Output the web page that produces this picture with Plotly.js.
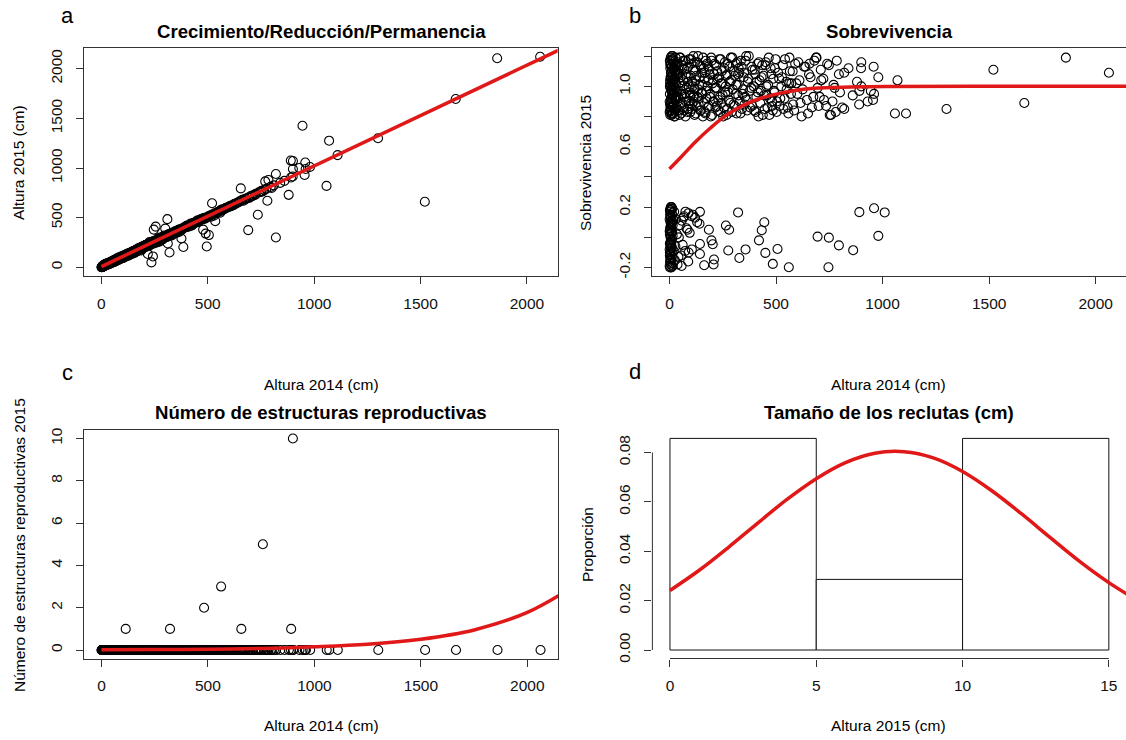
<!DOCTYPE html>
<html>
<head>
<meta charset="utf-8">
<script src="https://cdn.plot.ly/plotly-3.0.1.min.js"></script>
<style>
html,body{margin:0;padding:0;overflow:hidden;background:#fff;}
#chart{width:1130px;height:740px;}
</style>
</head>
<body>
<div id="chart"></div>
<script>
// ---------- DATA ----------
// Altura 2014 (cm) of surviving plants
const height2014 = [
1,2,2,3,3,4,4,5,5,6,6,7,7,8,8,9,10,10,11,12,
12,13,14,15,15,16,17,18,19,20,20,21,22,23,24,25,26,27,28,30,
1,3,4,6,8,9,11,13,14,16,18,19,21,23,25,27,29,31,33,35,
36,38,40,42,44,46,48,50,52,55,57,60,62,65,67,70,72,75,77,80,
82,85,87,90,92,95,98,100,103,106,109,112,115,118,121,124,128,131,135,138,
141,145,148,152,155,158,162,165,169,172,176,180,183,187,190,194,198,202,206,210,
214,218,222,226,230,235,238,242,246,250,255,260,264,268,272,276,280,285,290,295,
300,305,310,312,315,320,325,330,335,340,345,350,355,360,365,370,376,385,388,395,
400,405,410,415,420,426,432,438,444,450,455,460,466,472,478,485,490,495,505,515,
520,528,535,542,550,558,565,572,580,590,600,610,620,632,645,655,668,680,695,710,
690,705,722,735,748,765,770,780,785,800,820,820,840,860,880,890,900,945,955,958,
1058,1070,1110,1300,1520,1665,1860,2062,900,960,114,322,482,562,657,758,891,899,930,980,
31,34,37,41,43,47,51,54,58,61,64,68,71,74,78,81,84,88,91,94,
97,101,105,108,111,114,117,120,123,127,130,134,137,140,144,147,151,154,157,161,
164,167,171,174,178,182,185,189,192,196,200,204,208,212,216,220,224,228,232,237,
240,244,248,252,257,262,266,270,274,278,283,288,292,297,302,307,313,318,323,328,
333,338,343,348,352,357,362,367,372,378,383,390,398,403,408,413,418,423,429,435,
441,447,452,458,463,469,475,481,487,493,498,503,510,517,525,532,540,548,555,563,
570,578,585,595,605,615,625,638,650,662,675,688,700,712,725,740,752,775,795,810,
2,3,5,6,7,9,10,11,12,13,14,16,17,18,20,22,24,26,28,29
];
// Altura 2015 (cm) of the same plants
const height2015 = [
3,2,6,4,9,5,10,8,12,7,14,9,16,11,6,15,13,20,12,18,
22,15,25,19,28,24,20,30,26,22,35,27,33,25,38,30,36,29,40,34,
2,5,3,9,12,10,15,18,16,24,21,26,30,28,33,31,37,36,42,39,
45,40,52,48,44,58,53,50,63,57,70,61,75,66,80,72,85,78,95,83,
90,100,84,98,110,92,112,105,95,120,113,110,130,118,125,140,122,145,130,150,
140,160,150,165,145,170,175,160,185,172,195,182,200,170,205,190,215,200,225,208,
230,135,240,255,225,50,245,110,380,262,410,250,290,270,258,300,292,285,305,320,
390,310,485,240,330,150,340,325,350,345,360,365,350,375,380,370,290,205,400,410,
415,410,420,430,440,425,445,450,455,470,460,475,480,490,380,500,340,210,325,510,
645,520,465,545,560,550,570,580,590,600,610,615,625,640,655,795,670,690,700,720,
375,715,730,530,760,780,865,670,880,800,940,300,850,870,730,1075,990,1425,930,1055,
820,1275,1130,1300,660,1695,2105,2120,1070,990,125,335,490,580,670,765,905,915,1000,1010,
38,30,44,36,52,45,60,50,66,55,72,63,80,70,88,76,95,85,100,90,
108,95,118,112,105,125,120,135,128,118,142,130,150,145,135,160,155,148,170,158,
178,160,185,170,195,180,200,182,210,195,215,205,225,210,232,215,240,222,250,240,
250,265,240,262,270,255,285,275,290,268,300,280,310,298,315,305,330,320,335,320,
345,335,355,350,365,358,375,360,385,380,395,400,405,420,410,425,430,420,440,445,
450,460,455,470,475,480,485,495,490,500,505,515,520,530,535,545,550,560,565,575,
585,590,600,605,620,625,640,650,665,680,690,700,715,725,740,755,770,790,810,825,
4,6,7,9,10,12,14,13,17,16,19,20,23,21,26,28,30,32,35,33
];
// Sobrevivencia 2015 (jittered, survivors)
const survivedJitter = [
0.83,1.17,0.95,1.02,0.88,1.12,0.81,1.06,0.99,1.19,0.86,0.92,1.09,1.15,0.84,1.01,1.18,0.90,1.04,0.97,
1.13,0.87,0.94,1.08,1.20,0.82,1.00,1.11,0.89,0.96,1.16,0.85,1.05,0.93,1.14,0.80,1.03,1.10,0.91,1.07,
0.90,1.04,1.15,0.86,0.98,1.13,0.81,1.07,0.94,1.18,1.01,0.87,1.12,0.83,0.96,1.05,1.19,0.92,0.85,1.10,
0.97,1.16,0.84,1.09,0.92,1.02,1.19,0.88,1.06,0.82,1.14,0.95,1.00,1.17,0.86,1.11,0.93,0.80,1.08,0.99,
1.12,0.85,1.03,0.90,1.18,0.96,0.83,1.07,1.15,0.88,1.00,1.20,0.94,0.81,1.10,1.04,0.87,1.16,0.98,0.92,
1.06,0.84,1.13,0.95,1.01,1.19,0.89,1.09,0.82,0.97,1.15,0.86,1.04,1.11,0.93,0.80,1.17,1.02,0.90,1.08,
0.99,1.14,0.87,1.05,0.91,1.18,0.83,1.02,1.10,0.94,0.86,1.16,1.00,0.81,1.08,0.96,1.13,0.89,1.04,1.19,
0.88,1.07,0.95,1.15,0.82,1.01,1.12,0.90,1.17,0.85,0.98,1.09,0.93,1.20,0.84,1.05,0.97,1.13,0.87,1.00,
1.11,0.83,1.03,0.96,1.16,0.89,1.06,0.81,0.94,1.14,1.00,0.86,1.19,0.92,1.08,0.84,0.97,1.12,0.90,1.05,
0.92,1.06,0.85,1.18,0.98,0.82,1.10,1.02,0.88,1.15,0.95,1.04,0.80,1.13,0.91,1.08,0.86,1.17,0.99,1.11,
1.19,0.93,1.05,0.87,1.14,0.90,1.01,0.83,1.17,0.96,1.09,0.85,1.12,0.94,1.03,0.88,1.16,0.97,0.91,1.13,
0.82,1.04,0.82,0.85,1.11,0.89,1.19,1.09,1.00,0.95,0.93,1.08,0.87,1.02,1.15,0.81,0.97,1.12,0.90,1.06,
1.02,0.86,1.15,0.93,1.08,0.81,1.19,0.97,0.89,1.12,1.04,0.84,0.95,1.17,0.90,1.06,0.83,1.13,1.00,0.87,
0.94,1.18,0.85,1.03,1.11,0.90,0.98,1.16,0.82,1.07,0.93,1.20,0.88,1.01,1.14,0.84,0.96,1.09,0.80,1.12,
1.05,0.83,1.17,0.92,1.00,1.13,0.87,1.08,0.95,1.19,0.81,1.04,0.90,1.15,0.86,0.99,1.10,0.84,1.06,0.93,
1.18,0.89,1.02,0.80,1.12,0.96,1.07,0.85,1.15,0.91,1.03,1.19,0.83,0.98,1.10,0.87,1.01,1.16,0.94,1.09,
0.82,1.13,0.95,1.06,0.88,1.17,0.91,1.03,1.20,0.86,0.99,1.11,0.84,1.08,0.93,1.15,0.80,1.04,0.97,1.14,
1.07,0.85,1.16,0.94,1.01,0.81,1.12,0.90,1.05,0.96,1.18,0.83,1.09,0.87,1.00,1.14,0.92,1.03,0.86,1.19,
0.95,1.10,0.84,1.02,1.16,0.89,0.98,1.13,0.82,1.06,0.93,1.19,0.87,1.04,0.91,1.15,0.81,0.99,1.08,0.86,
1.00,0.84,1.14,0.89,1.06,0.97,1.20,0.82,1.10,0.92,1.03,1.17,0.86,0.95,1.12,0.80,1.08,0.99,1.15,0.91
];
// Número de estructuras reproductivas 2015 (same plants)
const repro2015 = [
0,0,0,0,0,0,0,0,0,0,0,0,0,0,0,0,0,0,0,0,
0,0,0,0,0,0,0,0,0,0,0,0,0,0,0,0,0,0,0,0,
0,0,0,0,0,0,0,0,0,0,0,0,0,0,0,0,0,0,0,0,
0,0,0,0,0,0,0,0,0,0,0,0,0,0,0,0,0,0,0,0,
0,0,0,0,0,0,0,0,0,0,0,0,0,0,0,0,0,0,0,0,
0,0,0,0,0,0,0,0,0,0,0,0,0,0,0,0,0,0,0,0,
0,0,0,0,0,0,0,0,0,0,0,0,0,0,0,0,0,0,0,0,
0,0,0,0,0,0,0,0,0,0,0,0,0,0,0,0,0,0,0,0,
0,0,0,0,0,0,0,0,0,0,0,0,0,0,0,0,0,0,0,0,
0,0,0,0,0,0,0,0,0,0,0,0,0,0,0,0,0,0,0,0,
0,0,0,0,0,0,0,0,0,0,0,0,0,0,0,0,0,0,0,0,
0,0,0,0,0,0,0,0,0,0,1,1,2,3,1,5,1,10,0,0,
0,0,0,0,0,0,0,0,0,0,0,0,0,0,0,0,0,0,0,0,
0,0,0,0,0,0,0,0,0,0,0,0,0,0,0,0,0,0,0,0,
0,0,0,0,0,0,0,0,0,0,0,0,0,0,0,0,0,0,0,0,
0,0,0,0,0,0,0,0,0,0,0,0,0,0,0,0,0,0,0,0,
0,0,0,0,0,0,0,0,0,0,0,0,0,0,0,0,0,0,0,0,
0,0,0,0,0,0,0,0,0,0,0,0,0,0,0,0,0,0,0,0,
0,0,0,0,0,0,0,0,0,0,0,0,0,0,0,0,0,0,0,0,
0,0,0,0,0,0,0,0,0,0,0,0,0,0,0,0,0,0,0,0
];
// Altura 2014 (cm) of plants that died
const deadHeight2014 = [
1,2,2,3,3,4,4,5,5,6,6,7,7,8,8,9,9,10,11,12,
1,1,2,3,4,5,5,6,7,8,9,10,10,11,12,13,14,15,2,4,
3,6,8,10,12,13,14,1,2,5,7,9,11,4,6,8,15,16,18,20,
44,57,75,85,80,89,104,74,90,105,88,57,42,141,143,143,143,163,207,209,
203,197,185,265,280,276,322,328,357,420,433,445,450,485,507,560,695,748,795,862,
746,891,960,1010,980,30,25,35,62,68,95,110,120,55,48,130,22,28,38,65
];
// Sobrevivencia 2015 (jittered, dead plants)
const deadJitter = [
-0.19,0.18,-0.12,0.05,0.15,-0.05,-0.17,0.10,0.00,-0.09,0.19,-0.14,0.08,0.13,-0.02,-0.20,0.03,0.16,-0.07,0.11,
0.12,-0.08,0.02,-0.16,0.17,-0.11,0.07,-0.03,0.14,-0.18,0.09,-0.06,0.20,-0.13,0.04,0.19,-0.10,0.01,-0.04,0.06,
-0.20,0.13,-0.15,0.09,-0.01,-0.19,0.15,0.04,-0.10,0.18,-0.07,0.11,0.03,-0.14,0.20,-0.04,0.08,-0.17,0.12,-0.09,
0.00,0.11,0.17,0.05,0.06,0.16,0.14,-0.09,-0.10,-0.08,-0.16,-0.19,-0.13,0.09,-0.044,-0.11,0.169,-0.185,-0.18,-0.147,
-0.046,-0.02,0.05,0.078,0.05,-0.087,0.165,-0.137,-0.08,-0.02,0.047,0.10,-0.103,-0.176,-0.077,-0.198,0.005,-0.002,-0.053,-0.085,
-0.198,0.167,0.193,0.165,0.01,0.12,-0.15,0.02,-0.05,0.14,0.03,0.15,0.13,-0.12,0.08,0.10,0.17,-0.06,-0.18,0.13
];
// Fitted curves
const growthLineX = [0, 2200];
const growthLineY = [8, 2238];
const survCurveX = [0, 57, 125, 192, 259, 343, 428, 512, 596, 680, 848, 1016, 1500, 2200];
const survCurveY = [0.453, 0.536, 0.636, 0.724, 0.801, 0.872, 0.921, 0.952, 0.974, 0.987, 0.995, 0.999, 1.0, 1.0];
const reproCurveX = [0, 250, 500, 750, 1000, 1250, 1500, 1750, 2000, 2200];
const reproCurveY = [0.012, 0.022, 0.04, 0.075, 0.15, 0.27, 0.51, 0.95, 1.78, 2.9];
// Tamaño de los reclutas: histogram
const recruitBinMid = [2.5, 7.5, 12.5];
const recruitBinWidth = [5, 5, 5];
const recruitDensity = [0.0857, 0.0286, 0.0857];
const recruitCurveX = [0,1,2,3,4,5,6,7,8,9,10,11,12,13,14,15,16];
const recruitCurveY = [0.0241,0.0323,0.0416,0.0514,0.0610,0.0694,0.0759,0.0797,0.0803,0.0778,0.0723,0.0645,0.0553,0.0455,0.0359,0.0273,0.0199];
// Tick labels
const heightTicks = [0, 500, 1000, 1500, 2000];
const survTicks = [-0.2, 0.0, 0.2, 0.4, 0.6, 0.8, 1.0, 1.2];
const survTickText = ['-0.2', '', '0.2', '', '0.6', '', '1.0', ''];
const reproTicks = [0, 2, 4, 6, 8, 10];
const recruitXTicks = [0, 5, 10, 15];
const recruitYTicks = [0.00, 0.02, 0.04, 0.06, 0.08];

// ---------- LAYOUT ----------
const W = 1130, H = 740;
const FONT = 'Liberation Sans, Arial, Helvetica, sans-serif';
const RED = '#e01818';
const AX = '#333333';
const px = v => v / W;
const py = v => 1 - v / H;

const dom = {
  aX: [px(84.4), px(557.6)], topY: [py(276), py(47.7)],
  bX: [px(652.4), px(1126.4)],
  cX: [px(84.4), px(558)], botY: [py(658.5), py(430)]
};

const ptMarker = {symbol: 'circle-open', size: 9, color: '#000', line: {width: 1.1, color: '#000'}};

const traces = [
  {x: height2014, y: height2015, type: 'scatter', mode: 'markers', marker: ptMarker, xaxis: 'x', yaxis: 'y'},
  {x: growthLineX, y: growthLineY, type: 'scatter', mode: 'lines', line: {color: RED, width: 3.5}, xaxis: 'x', yaxis: 'y'},
  {x: height2014, y: survivedJitter, type: 'scatter', mode: 'markers', marker: ptMarker, xaxis: 'x2', yaxis: 'y2'},
  {x: deadHeight2014, y: deadJitter, type: 'scatter', mode: 'markers', marker: ptMarker, xaxis: 'x2', yaxis: 'y2'},
  {x: survCurveX, y: survCurveY, type: 'scatter', mode: 'lines', line: {color: RED, width: 3.5, shape: 'spline'}, xaxis: 'x2', yaxis: 'y2'},
  {x: height2014, y: repro2015, type: 'scatter', mode: 'markers', marker: ptMarker, xaxis: 'x3', yaxis: 'y3'},
  {x: reproCurveX, y: reproCurveY, type: 'scatter', mode: 'lines', line: {color: RED, width: 3.5, shape: 'spline'}, xaxis: 'x3', yaxis: 'y3'},
  {x: recruitBinMid, y: recruitDensity, width: recruitBinWidth, type: 'bar', marker: {color: '#fff', line: {color: '#111', width: 1}}, xaxis: 'x4', yaxis: 'y4'},
  {x: recruitCurveX, y: recruitCurveY, type: 'scatter', mode: 'lines', line: {color: RED, width: 3.5, shape: 'spline'}, xaxis: 'x4', yaxis: 'y4'}
];

const tickFont = {family: FONT, size: 15.5, color: '#111'};
function xAx(domain, range, ticks, anchor, boxed) {
  return {domain, range, anchor, tickmode: 'array', tickvals: ticks, showgrid: false, zeroline: false,
    showline: boxed, mirror: boxed, linecolor: AX, linewidth: 1, ticks: 'outside', ticklen: 7, tickwidth: 1,
    tickcolor: AX, tickfont: tickFont, ticklabelstandoff: 6, fixedrange: true};
}
function yAx(domain, range, ticks, anchor, boxed, text) {
  const o = {domain, range, anchor, tickmode: 'array', tickvals: ticks, showgrid: false, zeroline: false,
    showline: boxed, mirror: boxed, linecolor: AX, linewidth: 1, ticks: 'outside', ticklen: 7, tickwidth: 1,
    tickcolor: AX, tickfont: tickFont, tickangle: -90, ticklabelstandoff: 8, fixedrange: true};
  if (text) o.ticktext = text;
  return o;
}

function ann(text, x, y, size, bold, angle) {
  return {text: bold ? '<b>' + text + '</b>' : text, x: px(x), y: py(y), xref: 'paper', yref: 'paper',
    showarrow: false, xanchor: 'center', yanchor: 'middle', textangle: angle || 0,
    font: {family: FONT, size: size, color: '#000'}};
}

const layout = {
  width: W, height: H, margin: {l: 0, r: 0, t: 0, b: 0},
  paper_bgcolor: '#fff', plot_bgcolor: '#fff', showlegend: false,
  font: {family: FONT, color: '#000'},
  bargap: 0,
  xaxis: xAx(dom.aX, [-80, 2144], heightTicks, 'y', true),
  yaxis: yAx(dom.topY, [-87, 2211], heightTicks, 'x', true),
  xaxis2: xAx(dom.bX, [-80, 2144], heightTicks, 'y2', true),
  yaxis2: yAx(dom.topY, [-0.256, 1.256], survTicks, 'x2', true, survTickText),
  xaxis3: xAx(dom.cX, [-80, 2144], heightTicks, 'y3', true),
  yaxis3: yAx(dom.botY, [-0.4, 10.4], reproTicks, 'x3', true),
  xaxis4: xAx(dom.bX, [-0.6, 15.6], recruitXTicks, 'y4', false),
  yaxis4: Object.assign(yAx(dom.botY, [-0.00343, 0.0891], recruitYTicks, 'x4', false), {tickformat: '.2f'}),
  shapes: [
    {type: 'line', xref: 'x4', yref: 'paper', x0: recruitXTicks[0], x1: recruitXTicks[recruitXTicks.length - 1],
      y0: dom.botY[0], y1: dom.botY[0], line: {color: AX, width: 1}},
    {type: 'line', xref: 'paper', yref: 'y4', x0: dom.bX[0], x1: dom.bX[0],
      y0: recruitYTicks[0], y1: recruitYTicks[recruitYTicks.length - 1], line: {color: AX, width: 1}}
  ],
  annotations: [
    ann('a', 67, 15, 22), ann('b', 635, 15, 22), ann('c', 67, 372, 22), ann('d', 635, 371, 22),
    ann('Crecimiento/Reducción/Permanencia', 321, 31, 18.6, true),
    ann('Sobrevivencia', 889, 31, 18.6, true),
    ann('Número de estructuras reproductivas', 321, 412, 18.6, true),
    ann('Tamaño de los reclutas (cm)', 889, 412, 18.6, true),
    ann('Altura 2014 (cm)', 321, 384, 15.5), ann('Altura 2014 (cm)', 888, 384, 15.5),
    ann('Altura 2014 (cm)', 321, 725, 15.5), ann('Altura 2015 (cm)', 888, 725, 15.5),
    ann('Altura 2015 (cm)', 19, 163, 15.5, false, -90),
    ann('Sobrevivencia 2015', 586, 163, 15.5, false, -90),
    ann('Número de estructuras reproductivas 2015', 19, 545, 15.5, false, -90),
    ann('Proporción', 587, 545, 15.5, false, -90)
  ]
};

Plotly.newPlot('chart', traces, layout, {displayModeBar: false, staticPlot: true});
</script>
</body>
</html>
